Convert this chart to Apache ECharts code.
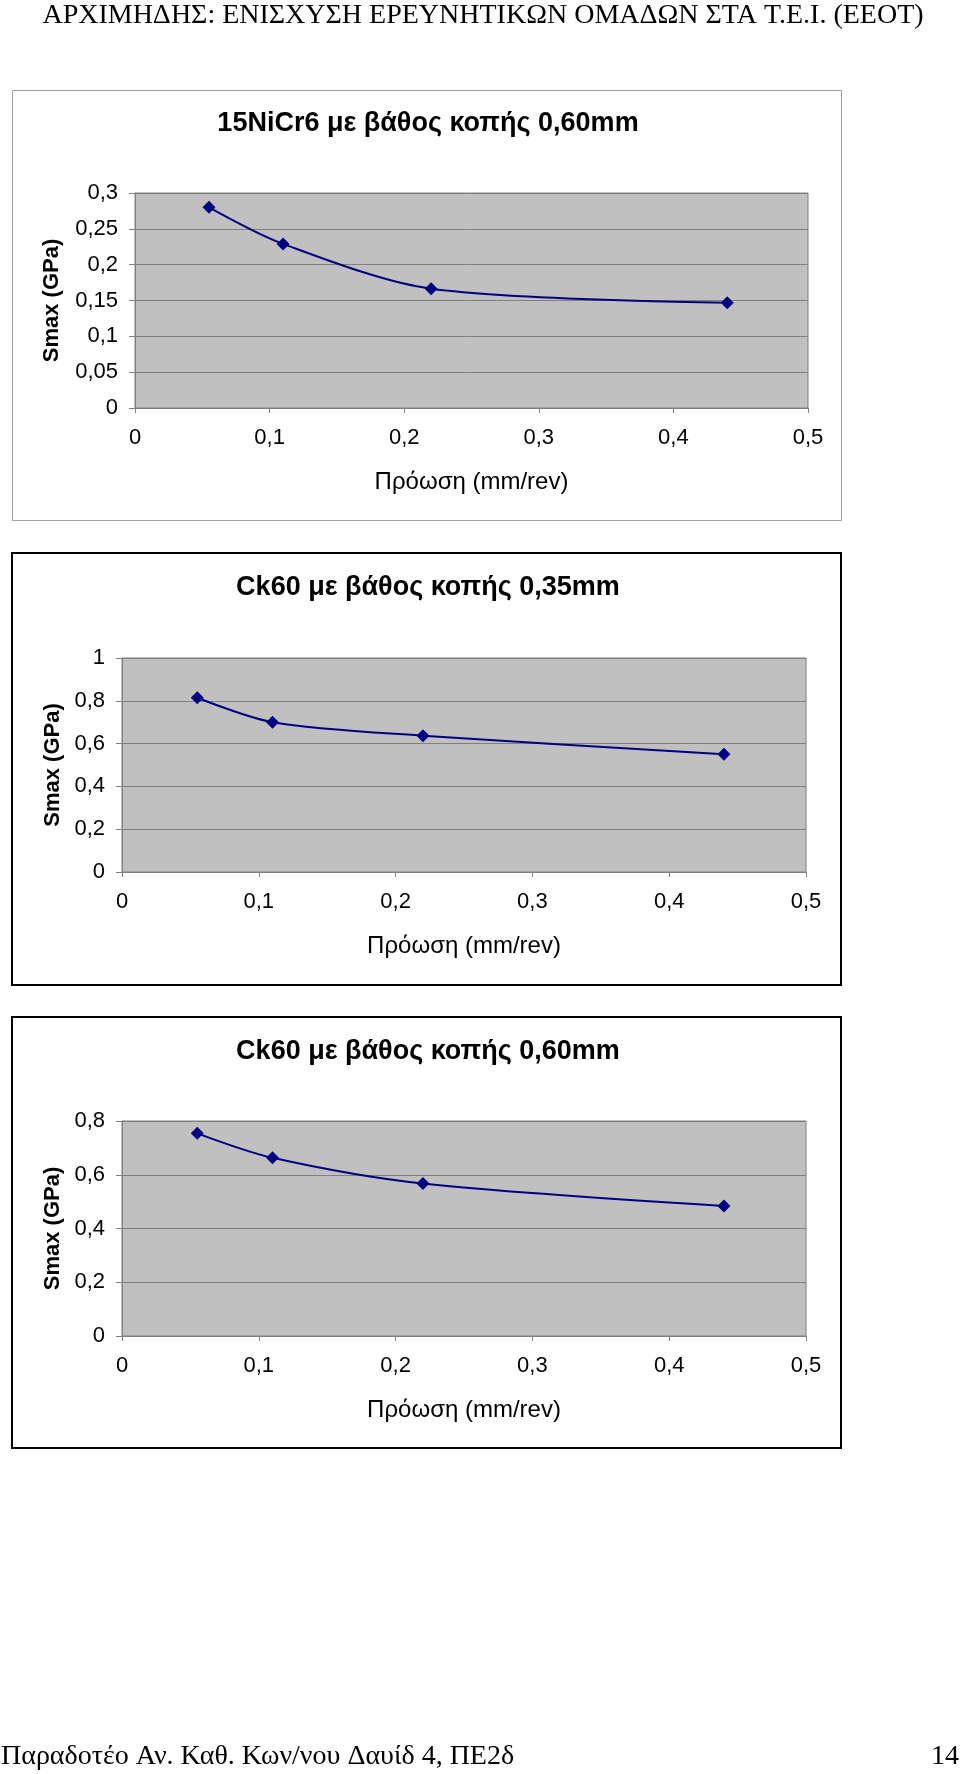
<!DOCTYPE html>
<html>
<head>
<meta charset="utf-8">
<script src="https://cdn.jsdelivr.net/npm/echarts@6/dist/echarts.min.js"></script>
<style>
html,body{margin:0;padding:0;background:#fff;}
#main{width:960px;height:1774px;}
</style>
</head>
<body>
<div id="main"></div>
<script>
// ---- data ----
const feed = [0.055, 0.11, 0.22, 0.44];               // Πρόωση (mm/rev)
const smax15NiCr6_060 = [0.280, 0.229, 0.1665, 0.147]; // 15NiCr6, 0.60mm
const smaxCk60_035 = [0.814, 0.700, 0.637, 0.550];     // Ck60, 0.35mm
const smaxCk60_060 = [0.754, 0.663, 0.567, 0.484];     // Ck60, 0.60mm
const chartTitles = ['15NiCr6 με βάθος κοπής 0,60mm', 'Ck60 με βάθος κοπής 0,35mm', 'Ck60 με βάθος κοπής 0,60mm'];
const xAxisName = 'Πρόωση (mm/rev)';
const yAxisName = 'Smax (GPa)';
const xTicks = [0, 0.1, 0.2, 0.3, 0.4, 0.5];
const yMax = [0.3, 1, 0.8];
const yStep = [0.05, 0.2, 0.2];
const headerText = 'ΑΡΧΙΜΗΔΗΣ: ΕΝΙΣΧΥΣΗ ΕΡΕΥΝΗΤΙΚΩΝ ΟΜΑΔΩΝ ΣΤΑ Τ.Ε.Ι. (ΕΕΟΤ)';
const footerText = 'Παραδοτέο Αν. Καθ. Κων/νου Δαυίδ 4, ΠΕ2δ';
const pageNumber = '14';

const seriesData = [smax15NiCr6_060, smaxCk60_035, smaxCk60_060];

// ---- layout ----
const grids = [
  {left: 135, top: 193, width: 673, height: 215},
  {left: 122, top: 658, width: 684, height: 214},
  {left: 122, top: 1121, width: 684, height: 215}
];
const titleY = [110, 574, 1038];
const yNameGap = [72, 58, 58];

const FONT = '"Liberation Sans", Arial, sans-serif';
const SERIF = '"Liberation Serif", "Times New Roman", serif';
const fmt = v => String(+v.toFixed(4)).replace('.', ',');

const chart = echarts.init(document.getElementById('main'), null, {renderer: 'canvas'});

const option = {
  animation: false,
  backgroundColor: '#ffffff',
  textStyle: {fontFamily: FONT},
  title: chartTitles.map((t, i) => ({
    text: t,
    left: 428,
    top: titleY[i],
    textAlign: 'center',
    padding: 0,
    textStyle: {fontFamily: FONT, fontSize: 27, fontWeight: 'bold', color: '#000'}
  })),
  grid: grids.map(g => Object.assign({
    show: true,
    backgroundColor: '#c0c0c0',
    borderColor: '#808080',
    borderWidth: 1,
    containLabel: false
  }, g)),
  xAxis: grids.map((g, i) => ({
    type: 'value',
    gridIndex: i,
    min: 0,
    max: 0.5,
    interval: 0.1,
    name: xAxisName,
    nameLocation: 'middle',
    nameGap: 62,
    nameTextStyle: {fontFamily: FONT, fontSize: 24, color: '#000'},
    axisLine: {show: true, lineStyle: {color: '#808080', width: 1}},
    axisTick: {show: true, inside: false, length: 5, lineStyle: {color: '#808080'}},
    splitLine: {show: false},
    axisLabel: {margin: 19, fontFamily: FONT, fontSize: 22, color: '#000', formatter: fmt}
  })),
  yAxis: grids.map((g, i) => ({
    type: 'value',
    gridIndex: i,
    min: 0,
    max: yMax[i],
    interval: yStep[i],
    name: yAxisName,
    nameLocation: 'middle',
    nameGap: yNameGap[i],
    nameTextStyle: {fontFamily: FONT, fontSize: 22, fontWeight: 'bold', color: '#000'},
    axisLine: {show: true, lineStyle: {color: '#808080', width: 1}},
    axisTick: {show: true, inside: false, length: 6, lineStyle: {color: '#808080'}},
    splitLine: {show: true, lineStyle: {color: '#808080', width: 1}},
    axisLabel: {margin: 17, fontFamily: FONT, fontSize: 22, color: '#000', formatter: fmt}
  })),
  series: seriesData.map((vals, i) => ({
    type: 'line',
    xAxisIndex: i,
    yAxisIndex: i,
    smooth: 0.3,
    symbol: 'diamond',
    symbolSize: 13,
    lineStyle: {color: '#000080', width: 2},
    itemStyle: {color: '#000080'},
    data: feed.map((x, k) => [x, vals[k]])
  })),
  graphic: [
    {type: 'rect', shape: {x: 12.5, y: 90.5, width: 829, height: 430}, style: {fill: 'none', stroke: '#a0a0a0', lineWidth: 1}, z: -1},
    {type: 'rect', shape: {x: 12, y: 553, width: 829, height: 432}, style: {fill: 'none', stroke: '#000', lineWidth: 2}, z: -1},
    {type: 'rect', shape: {x: 12, y: 1017, width: 829, height: 431}, style: {fill: 'none', stroke: '#000', lineWidth: 2}, z: -1},
    {type: 'text', x: 483, y: 16, style: {text: headerText, font: '28px ' + SERIF, fill: '#000', textAlign: 'center', textVerticalAlign: 'middle'}},
    {type: 'text', x: 1, y: 1757, style: {text: footerText, font: '28px ' + SERIF, fill: '#000', textAlign: 'left', textVerticalAlign: 'middle'}},
    {type: 'text', x: 959, y: 1757, style: {text: pageNumber, font: '28px ' + SERIF, fill: '#000', textAlign: 'right', textVerticalAlign: 'middle'}}
  ]
};
chart.setOption(option);
</script>
</body>
</html>
